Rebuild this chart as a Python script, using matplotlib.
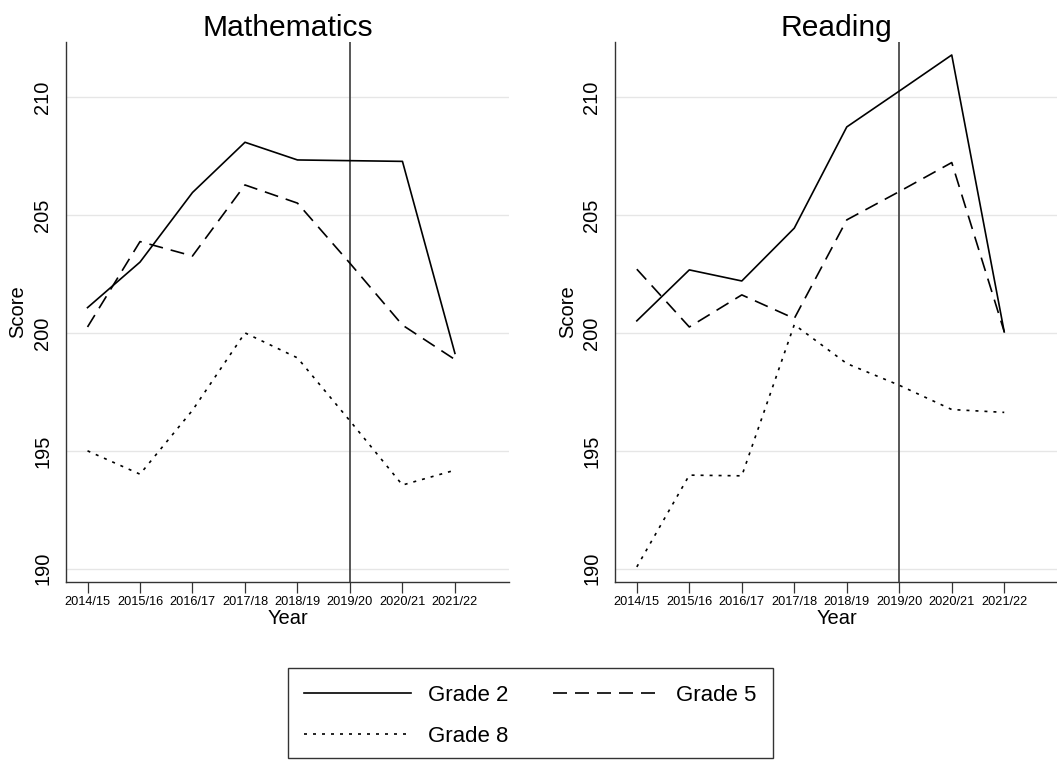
import matplotlib
matplotlib.use("Agg")
import matplotlib.pyplot as plt
from matplotlib.patches import Rectangle
import numpy as np

plt.rcParams['font.family'] = ['Liberation Sans', 'DejaVu Sans']

years = ["2014/15", "2015/16", "2016/17", "2017/18", "2018/19", "2019/20", "2020/21", "2021/22"]
vline_year = "2019/20"

math_g2 = [201.07, 203.0, 205.95, 208.08, 207.33, 207.3, 207.27, 199.13]
math_g5 = [200.25, 203.87, 203.26, 206.27, 205.5, 202.95, 200.33, 198.87]
math_g8 = [195.0, 194.01, 196.72, 200.0, 198.94, 196.27, 193.55, 194.18]

read_g2 = [200.51, 202.67, 202.2, 204.44, 208.73, 210.25, 211.78, 200.04]
read_g5 = [202.7, 200.25, 201.61, 200.61, 204.79, 205.99, 207.22, 200.05]
read_g8 = [190.08, 193.97, 193.94, 200.35, 198.7, 197.78, 196.75, 196.63]

yticks = [190, 195, 200, 205, 210]
series_labels = ["Grade 2", "Grade 5", "Grade 8"]

fig = plt.figure(figsize=(10.57, 7.6), dpi=100)
W, H = 1057, 760
ax1 = fig.add_axes([66 / W, 1 - 582 / H, 443 / W, 540 / H])
ax2 = fig.add_axes([615.3 / W, 1 - 582 / H, 443 / W, 540 / H])

lw = 1.2
styles = [dict(linestyle='-'),
          dict(linestyle=(0, (8.4, 4.8))),
          dict(linestyle=(0, (1.8, 3.6)))]

x = np.arange(len(years))
handles = []
for ax, title, data in [(ax1, "Mathematics", [math_g2, math_g5, math_g8]),
                        (ax2, "Reading", [read_g2, read_g5, read_g8])]:
    for yy in yticks:
        ax.axhline(yy, color='#e6e6e6', lw=1.0, zorder=0)
    ax.axvline(years.index(vline_year), color='#4a4a4a', lw=1.3, zorder=1)
    hs = []
    for d, st, lab in zip(data, styles, series_labels):
        h, = ax.plot(x, d, color='black', lw=lw, label=lab, zorder=3, **st)
        hs.append(h)
    handles = hs
    ax.set_xlim(-0.41, 8.03)
    ax.set_ylim(189.44, 212.33)
    ax.set_xticks(x)
    ax.set_xticklabels(years, fontsize=9.2)
    ax.set_yticks(yticks)
    ax.set_yticklabels([str(v) for v in yticks], fontsize=14.4, rotation=90, va='center')
    ax.tick_params(axis='x', length=8, width=0.9, color='#333333', pad=2)
    ax.tick_params(axis='y', length=0, pad=10)
    for s in ['top', 'right']:
        ax.spines[s].set_visible(False)
    for s in ['left', 'bottom']:
        ax.spines[s].set_color('#333333')
        ax.spines[s].set_linewidth(1.0)
    ax.set_title(title, fontsize=21.6, pad=4)
    ax.set_xlabel("Year", fontsize=14.5, labelpad=1)
    ax.set_ylabel("Score", fontsize=14.5, labelpad=4)

# legend filled row-wise: Grade 2, Grade 5 / Grade 8
order = [0, 2, 1]
leg = fig.legend(handles=[handles[i] for i in order],
                 labels=[series_labels[i] for i in order], loc='center',
                 bbox_to_anchor=(530.5 / W, 1 - 716 / H), ncol=2, fontsize=16,
                 frameon=False, handlelength=4.8, handletextpad=0.77,
                 columnspacing=2.0, borderpad=0.0, labelspacing=0.92, borderaxespad=0)

# legend frame box
fig.patches.append(Rectangle((288.3 / W, 1 - 758 / H), (773 - 288.3) / W, (758 - 668.3) / H,
                             transform=fig.transFigure, fill=False,
                             edgecolor='#333333', linewidth=1.0))

fig.savefig("out.png", dpi=100)
